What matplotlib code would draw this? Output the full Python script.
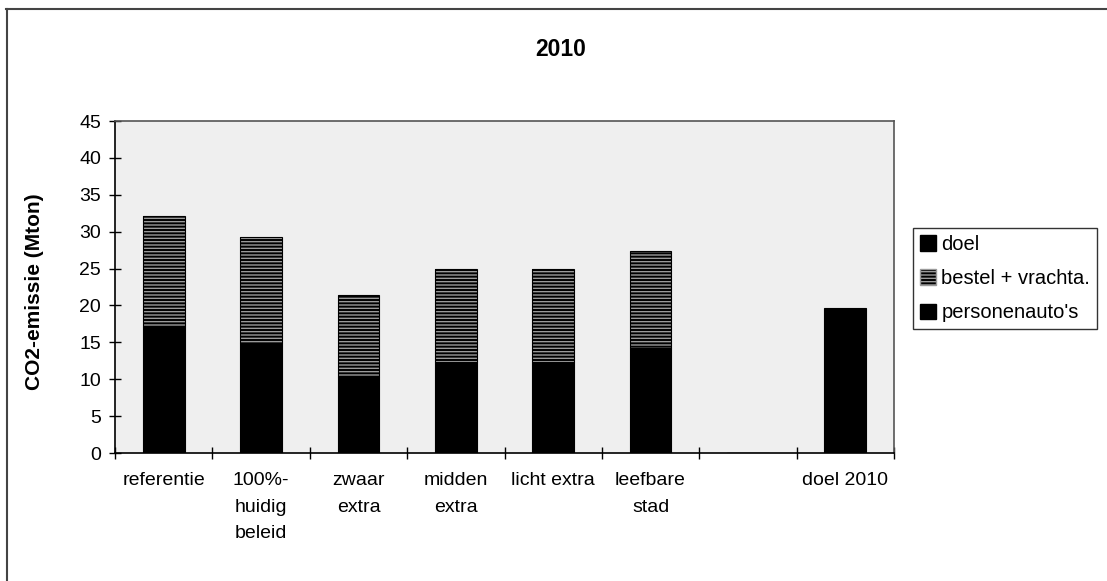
import matplotlib
matplotlib.use('Agg')
import matplotlib.pyplot as plt
from matplotlib.patches import Patch
from matplotlib.lines import Line2D
import numpy as np

plt.rcParams['font.family'] = ['Liberation Sans', 'DejaVu Sans']
plt.rcParams['hatch.linewidth'] = 1.0

# waarden (Mton CO2)
categories = ['referentie', '100%-\nhuidig\nbeleid', 'zwaar\nextra', 'midden\nextra',
              'licht extra', 'leefbare\nstad', '', 'doel 2010']
personenautos = [17.1, 14.9, 10.3, 12.4, 12.4, 14.2, 0, 0]
bestel = [15.0, 14.4, 11.1, 12.6, 12.6, 13.2, 0, 0]
doel = [0, 0, 0, 0, 0, 0, 0, 19.6]
yticks = [0, 5, 10, 15, 20, 25, 30, 35, 40, 45]

fig = plt.figure(figsize=(11.07, 5.81), dpi=100)
ax = fig.add_axes([115/1107, 1 - 453/581, 779/1107, 332/581])
ax.set_facecolor('#efefef')

x = np.arange(len(categories))
w = 0.43
ax.bar(x, personenautos, w, color='black', edgecolor='black', linewidth=0.8, zorder=2)
ax.bar(x, bestel, w, bottom=personenautos, color='black', edgecolor='#9a9a9a',
       hatch='-----', linewidth=0, zorder=2)
ax.bar(x, bestel, w, bottom=personenautos, fill=False, edgecolor='black', linewidth=0.8, zorder=3)
ax.bar(x, doel, w, color='black', edgecolor='black', linewidth=0.8, zorder=2)

ax.set_xlim(-0.5, len(categories) - 0.5)
ax.set_ylim(0, 45)
ax.set_yticks(yticks)
ax.tick_params(axis='y', direction='inout', length=8, width=1, labelsize=14, pad=6)
ax.set_xticks(x)
ax.set_xticklabels(categories, fontsize=14, linespacing=1.7, va='top')
ax.tick_params(axis='x', which='major', length=0, pad=14)
ax.set_xticks(np.arange(len(categories) + 1) - 0.5, minor=True)
ax.tick_params(axis='x', which='minor', direction='inout', length=8, width=1)
for s in ax.spines.values():
    s.set_linewidth(1.2)
    s.set_color('black')
ax.spines['top'].set_color('#555555')
ax.spines['right'].set_color('#555555')

fig.text(561/1107, 1 - 50/581, '2010', fontsize=16.5, fontweight='bold', ha='center', va='center')
fig.text(35/1107, 1 - 292/581, 'CO2-emissie (Mton)', fontsize=15, fontweight='bold',
         rotation=90, ha='center', va='center')

handles = [Patch(facecolor='black', edgecolor='black'),
           Patch(facecolor='black', edgecolor='#9a9a9a', hatch='-----'),
           Patch(facecolor='black', edgecolor='black')]
labels = ['doel', 'bestel + vrachta.', "personenauto's"]
leg = fig.legend(handles, labels, loc='upper left', bbox_to_anchor=(913/1107, 1 - 228/581),
                 frameon=True, fancybox=False, fontsize=14.5, handlelength=0.8, handleheight=0.8,
                 handletextpad=0.25, labelspacing=0.75, borderpad=0.35, borderaxespad=0)
leg.get_frame().set_edgecolor('black')
leg.get_frame().set_linewidth(1.0)

# kader rond de hele grafiek
fig.add_artist(Line2D([6/1107, 1], [1 - 9/581, 1 - 9/581], color='#444444', lw=1.5,
                      transform=fig.transFigure))
fig.add_artist(Line2D([7/1107, 7/1107], [0, 1 - 9/581], color='#444444', lw=1.5,
                      transform=fig.transFigure))

fig.savefig('out.png', dpi=100)
